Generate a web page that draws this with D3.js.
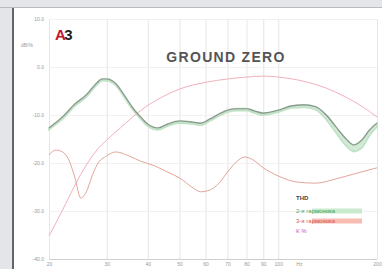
<!DOCTYPE html>
<html>
<head>
<meta charset="utf-8">
<script src="https://cdn.jsdelivr.net/npm/d3@7"></script>
<style>
  body { margin: 0; background: #e4e5e9; }
  svg { display: block; font-family: "Liberation Sans", Arial, sans-serif; }
</style>
</head>
<body>
<div class="chart"></div>
<script>
// frequency (Hz) and levels (dB)
var freq   = [20, 22, 24, 26, 28, 29, 30, 32, 34, 36, 38, 40, 43, 46, 50, 55, 58, 62, 66, 70, 75, 80, 85, 90, 100, 110, 120, 130, 140, 150, 160, 170, 180, 190, 200];
var thd    = [-12.7, -10.4, -7.7, -5.8, -3.3, -2.5, -2.5, -3.5, -6.0, -8.5, -10.4, -11.9, -12.7, -11.9, -11.25, -11.5, -11.7, -10.8, -9.8, -9.0, -8.7, -8.7, -9.2, -9.6, -9.0, -8.1, -7.9, -8.3, -10.0, -12.5, -14.8, -16.25, -15.2, -13.1, -11.7];
var thdLow = [-13.0, -10.8, -8.1, -6.2, -3.7, -2.9, -2.9, -3.9, -6.4, -8.9, -10.8, -12.3, -13.1, -12.3, -11.7, -11.9, -12.1, -11.2, -10.2, -9.4, -9.1, -9.1, -9.6, -10.0, -9.4, -8.5, -8.4, -8.9, -10.9, -13.7, -16.2, -17.6, -16.8, -14.2, -12.4];

var freq2 = [20, 22, 24, 26, 28, 30, 33, 36, 40, 45, 50, 60, 70, 80, 90, 100, 120, 140, 160, 180, 200];
var h2    = [-35.2, -29.8, -24.6, -20.4, -17.3, -15.2, -12.7, -10.4, -8.0, -6.0, -4.6, -3.2, -2.5, -2.1, -1.9, -2.1, -3.0, -4.4, -6.2, -8.2, -10.4];

var freq3 = [20, 21, 22, 23, 24, 25, 26, 27, 28, 30, 32, 35, 38, 42, 46, 50, 55, 58, 62, 66, 70, 75, 79, 84, 90, 100, 115, 130, 150, 170, 200];
var h3    = [-18.3, -17.3, -17.7, -19.4, -23.1, -27.3, -26.0, -22.9, -20.4, -18.5, -17.7, -18.5, -19.6, -20.6, -21.9, -23.1, -25.2, -26.0, -25.6, -24.2, -21.9, -19.6, -18.75, -19.4, -21.0, -22.7, -24.0, -24.2, -23.3, -22.3, -21.0];

var xTicks = [20, 30, 40, 50, 60, 70, 80, 90, 100, 200];
var yTicks = [10, 0, -10, -20, -30, -40];
var legendLabels = ["THD", "2-я гармоника", "3-я гармоника", "К %"];

var width = 382, height = 269;

var svg = d3.select(".chart").append("svg")
    .attr("width", width)
    .attr("height", height);

// panel
svg.append("rect").attr("x", 14).attr("y", 8).attr("width", width - 14).attr("height", height - 8).attr("fill", "#fff");
svg.append("line").attr("x1", 0).attr("x2", width).attr("y1", 7.5).attr("y2", 7.5).attr("stroke", "#b9bbc0");
svg.append("line").attr("x1", 13).attr("x2", 13).attr("y1", 8).attr("y2", height).attr("stroke", "#3a3a3a").attr("stroke-width", 1.5);

var x = d3.scaleLog().domain([20, 200]).range([49, 377]);
var y = d3.scaleLinear().domain([-40, 10]).range([259, 19]);

// grid
svg.append("g")
    .attr("transform", "translate(0,259)")
    .call(d3.axisBottom(x).tickValues(xTicks).tickSize(-240).tickFormat(""))
    .call(function (g) {
        g.select(".domain").remove();
        g.selectAll("line").attr("stroke", "#dedede").attr("stroke-width", 0.8);
    });

svg.append("g")
    .attr("transform", "translate(49,0)")
    .call(d3.axisLeft(y).tickValues(yTicks).tickSize(-328).tickFormat(""))
    .call(function (g) {
        g.select(".domain").remove();
        g.selectAll("line").attr("stroke", "#eeeeee").attr("stroke-width", 0.8);
    });

svg.append("line").attr("x1", 49).attr("x2", 377).attr("y1", 259.5).attr("y2", 259.5).attr("stroke", "#cfcfcf");

// axis labels
svg.append("g")
    .attr("transform", "translate(0,261)")
    .call(d3.axisBottom(x).tickValues(xTicks).tickSize(0).tickPadding(1).tickFormat(d3.format("d")))
    .call(function (g) {
        g.select(".domain").remove();
        g.selectAll("text").attr("fill", "#999").style("font-size", "5px");
    });

svg.append("g")
    .attr("transform", "translate(44,0)")
    .call(d3.axisLeft(y).tickValues(yTicks).tickSize(0).tickPadding(0).tickFormat(function (d) { return d.toFixed(1); }))
    .call(function (g) {
        g.select(".domain").remove();
        g.selectAll("text").attr("fill", "#999").style("font-size", "5px");
    });

svg.append("text").attr("x", x(116)).attr("y", 266).attr("text-anchor", "middle")
    .attr("fill", "#999").style("font-size", "5px").text("Hz");
svg.append("text").attr("x", 21).attr("y", 47)
    .attr("fill", "#999").style("font-size", "5px").text("dB/%");

// curves
var line = d3.line().curve(d3.curveMonotoneX);

var band = d3.area()
    .curve(d3.curveMonotoneX)
    .x(function (d) { return x(d[0]); })
    .y0(function (d) { return y(d[1]); })
    .y1(function (d) { return y(d[2]); });

svg.append("path")
    .datum(freq.map(function (f, i) { return [f, thd[i], thdLow[i]]; }))
    .attr("d", band)
    .attr("fill", "#d2ebd6")
    .attr("stroke", "#c0e2c6")
    .attr("stroke-width", 1.8);

svg.append("path")
    .attr("d", line(freq2.map(function (f, i) { return [x(f), y(h2[i])]; })))
    .attr("fill", "none")
    .attr("stroke", "#f0a6b2")
    .attr("stroke-width", 0.9);

svg.append("path")
    .attr("d", line(freq3.map(function (f, i) { return [x(f), y(h3[i])]; })))
    .attr("fill", "none")
    .attr("stroke", "#df9a8e")
    .attr("stroke-width", 0.9);

svg.append("path")
    .attr("d", line(freq.map(function (f, i) { return [x(f), y(thd[i])]; })))
    .attr("fill", "none")
    .attr("stroke", "#8a918c")
    .attr("stroke-width", 1.1);

// title and logo
svg.append("text").attr("x", 226).attr("y", 62).attr("text-anchor", "middle")
    .attr("fill", "#555").attr("font-weight", "bold")
    .style("font-size", "14px").style("letter-spacing", "1.3px")
    .text("GROUND ZERO");

var logo = svg.append("text").attr("x", 55).attr("y", 40)
    .attr("font-weight", "bold").style("font-size", "15px").style("letter-spacing", "-1.5px");
logo.append("tspan").attr("fill", "#c4122f").text("A");
logo.append("tspan").attr("fill", "#222").text("3");

// legend
var legendColors = ["#444", "#4aa457", "#d65a4c", "#c44ec6"];
var legendBg = [null, "#c9eacd", "#f8bdb2", null];
var legendY = [200, 213, 223, 233];

var lg = svg.append("g").selectAll("g")
    .data(legendLabels)
    .enter().append("g")
    .attr("transform", function (d, i) { return "translate(296," + legendY[i] + ")"; });

lg.filter(function (d, i) { return legendBg[i]; })
    .append("rect")
    .attr("x", 16).attr("y", -4.5).attr("width", 50).attr("height", 5)
    .attr("fill", function (d) { return legendBg[legendLabels.indexOf(d)]; });

lg.append("text")
    .attr("fill", function (d, i) { return legendColors[i]; })
    .style("font-size", "6px")
    .attr("font-weight", function (d, i) { return i === 0 ? "bold" : "normal"; })
    .text(function (d) { return d; });
</script>
</body>
</html>
